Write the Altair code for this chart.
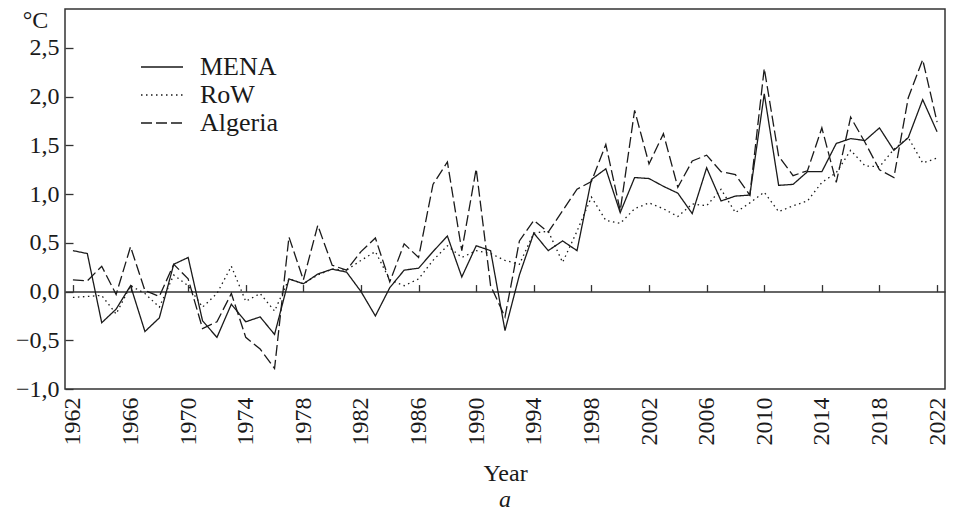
import altair as alt
import pandas as pd

years = list(range(1962, 2023))

mena = [0.42, 0.39, -0.32, -0.18, 0.06, -0.41, -0.27, 0.28, 0.35, -0.30,
        -0.47, -0.13, -0.31, -0.26, -0.44, 0.13, 0.08, 0.18, 0.23, 0.20,
        0.00, -0.25, 0.04, 0.22, 0.24, 0.41, 0.57, 0.15, 0.47, 0.42,
        -0.40, 0.17, 0.60, 0.42, 0.52, 0.42, 1.15, 1.26, 0.81, 1.17,
        1.16, 1.08, 1.01, 0.80, 1.27, 0.93, 0.98, 0.99, 2.03, 1.09,
        1.10, 1.23, 1.23, 1.52, 1.57, 1.55, 1.68, 1.45, 1.58, 1.97, 1.64]

row = [-0.06, -0.05, -0.04, -0.23, 0.06, -0.02, -0.16, 0.17, 0.06, -0.16,
       -0.02, 0.26, -0.10, -0.02, -0.20, 0.13, 0.08, 0.17, 0.23, 0.22,
       0.32, 0.41, 0.12, 0.06, 0.13, 0.32, 0.47, 0.35, 0.42, 0.39,
       0.32, 0.28, 0.60, 0.62, 0.30, 0.62, 0.97, 0.73, 0.70, 0.85,
       0.91, 0.85, 0.77, 0.90, 0.88, 1.05, 0.81, 0.91, 1.02, 0.82,
       0.88, 0.93, 1.12, 1.22, 1.45, 1.29, 1.28, 1.46, 1.58, 1.32, 1.37]

algeria = [0.12, 0.11, 0.26, -0.03, 0.46, 0.01, -0.05, 0.28, 0.13, -0.38,
           -0.31, -0.02, -0.47, -0.59, -0.79, 0.56, 0.12, 0.68, 0.27, 0.22,
           0.41, 0.55, 0.10, 0.49, 0.35, 1.10, 1.33, 0.42, 1.26, 0.06,
           -0.26, 0.52, 0.73, 0.61, 0.83, 1.05, 1.13, 1.51, 0.83, 1.86,
           1.31, 1.62, 1.07, 1.34, 1.40, 1.23, 1.20, 0.99, 2.29, 1.39,
           1.19, 1.24, 1.68, 1.12, 1.79, 1.53, 1.25, 1.17, 1.99, 2.38, 1.74]

series_names = ["MENA", "RoW", "Algeria"]
dash_patterns = [[1, 0], [1.5, 3.5], [11, 4]]
x_ticks = list(range(1962, 2023, 4))
y_ticks = [-1.0, -0.5, 0.0, 0.5, 1.0, 1.5, 2.0, 2.5]

rows = []
for name, vals in zip(series_names, [mena, row, algeria]):
    for yr, v in zip(years, vals):
        rows.append({"Year": yr, "value": v, "series": name})
df = pd.DataFrame(rows)

FONT = "Liberation Serif"
INK = "#1a1a1a"
W, H = 880, 380
Y_MIN, Y_MAX = -1.0, 2.9
zero_px = H * (Y_MAX - 0) / (Y_MAX - Y_MIN)

x_scale = alt.Scale(domain=[1961.45, 2022.55], nice=False, zero=False)
y_scale = alt.Scale(domain=[Y_MIN, Y_MAX], nice=False, zero=False)

lines = alt.Chart(df).mark_line(strokeWidth=1.3, color=INK).encode(
    x=alt.X("Year:Q", scale=x_scale,
            axis=alt.Axis(values=x_ticks, format="d", labelAngle=-90,
                          ticks=False, domain=False, grid=False,
                          labelPadding=8, title="Year", titlePadding=16,
                          labelFontSize=24, titleFontSize=24,
                          labelFont=FONT, titleFont=FONT,
                          titleFontWeight="normal", labelColor=INK,
                          titleColor=INK)),
    y=alt.Y("value:Q", scale=y_scale,
            axis=alt.Axis(values=y_ticks, ticks=False, domain=False, grid=False,
                          labelExpr="replace(format(datum.value, '.1f'), '.', ',')",
                          labelPadding=6, labelFontSize=24, labelFont=FONT,
                          labelColor=INK,
                          title="°C", titleAngle=0, titleX=-30, titleY=-1,
                          titleAlign="center", titleBaseline="top",
                          titleFontSize=24, titleFont=FONT,
                          titleFontWeight="normal", titleColor=INK)),
    strokeDash=alt.StrokeDash("series:N",
                              scale=alt.Scale(domain=series_names, range=dash_patterns),
                              legend=alt.Legend(orient="none", legendX=82, legendY=43,
                                                title=None, symbolType="M-1.5,0H1.5",
                                                symbolSize=784, symbolStrokeWidth=1.3,
                                                symbolStrokeColor=INK,
                                                symbolFillColor="transparent",
                                                labelFont=FONT, labelFontSize=26,
                                                labelColor=INK,
                                                labelOffset=23, rowPadding=0)),
    detail="series:N",
)

tick_layer = alt.Chart(df).mark_point(opacity=0).encode(
    x=alt.X("Year:Q", scale=x_scale,
            axis=alt.Axis(orient="top", offset=-zero_px, values=x_ticks,
                          labels=False, title=None, grid=False,
                          ticks=True, tickSize=7, tickWidth=1.3, tickColor="#333333",
                          domain=True, domainWidth=1.5, domainColor="#333333")),
    y=alt.Y("value:Q", scale=y_scale,
            axis=alt.Axis(orient="right", offset=-W, values=y_ticks,
                          labels=False, title=None, grid=False,
                          ticks=True, tickSize=8, tickWidth=1.3, tickColor="#333333",
                          domain=False)),
)

chart = alt.layer(lines, tick_layer).resolve_axis(
    x="independent", y="independent"
).properties(
    width=W, height=H,
    autosize=alt.AutoSizeParams(type="none"),
    padding={"left": 57, "top": 1, "right": 7, "bottom": 122},
    title=alt.TitleParams("a", orient="bottom", fontStyle="italic",
                          fontWeight="normal", font=FONT, fontSize=24,
                          color=INK, offset=3),
).configure_view(
    stroke="#333333", strokeWidth=1.5
)

chart.save("out.html", embed_options={"renderer": "svg", "actions": False})
